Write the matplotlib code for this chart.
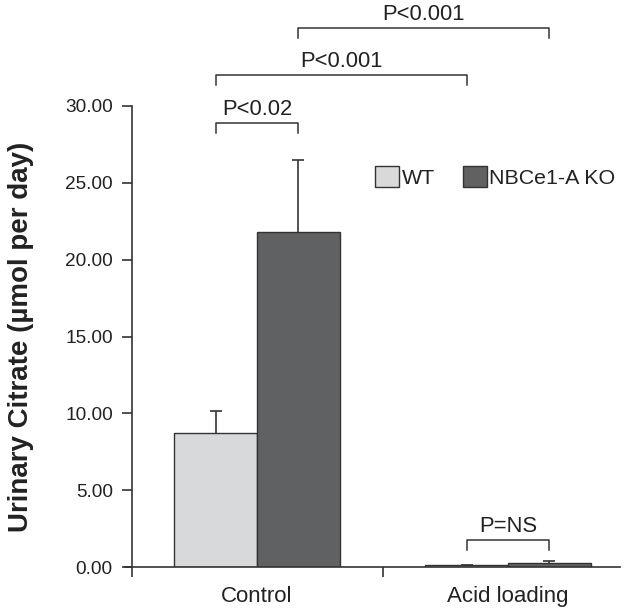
import numpy as np
import matplotlib
matplotlib.use("Agg")
from matplotlib import pyplot as plt

plt.rcParams['font.family'] = ['Liberation Sans', 'DejaVu Sans']

groups = ["Control", "Acid loading"]
series = ["WT", "NBCe1-A KO"]
means = {"WT": [8.7, 0.12], "NBCe1-A KO": [21.8, 0.28]}
errs = {"WT": [1.45, 0.0], "NBCe1-A KO": [4.7, 0.1]}
colors = {"WT": "#d8d9db", "NBCe1-A KO": "#606163"}

# (left bar index, right bar index, bracket height, label)
brackets = [(0, 1, 28.9, "P<0.02"),
            (0, 2, 32.0, "P<0.001"),
            (1, 3, 35.1, "P<0.001"),
            (2, 3, 1.76, "P=NS")]

yticks = [0, 5, 10, 15, 20, 25, 30]

ink = "#333333"
txt = "#222222"
fig = plt.figure(figsize=(6.35, 6.10), dpi=100)
ax = fig.add_axes([125 / 635, 1 - 567 / 610, 495 / 635, 461 / 610])

x = np.arange(len(groups))
w = 0.33
centers = []
for i, s in enumerate(series):
    pos = x + (i - 0.5) * w
    ax.bar(pos, means[s], w, color=colors[s], edgecolor=ink, linewidth=1.0,
           label=s, zorder=2)
    eb = ax.errorbar(pos, means[s], yerr=[np.zeros(len(groups)), errs[s]],
                     fmt="none", ecolor=ink, elinewidth=1.2, capsize=4.3,
                     capthick=1.2, zorder=1, clip_on=False)
    # only the upper cap is wanted
    for cl in eb[1]:
        if np.allclose(cl.get_ydata(), means[s]):
            cl.set_visible(False)
    centers.append(pos)

# order bars: WT ctrl, KO ctrl, WT acid, KO acid
bar_x = [centers[0][0], centers[1][0], centers[0][1], centers[1][1]]

drop = 0.65
for a, b, h, lab in brackets:
    xa, xb = bar_x[a], bar_x[b]
    ax.plot([xa, xa, xb, xb], [h - drop, h, h, h - drop], color=ink, lw=1.1,
            clip_on=False, zorder=4)
    ax.text((xa + xb) / 2, h + 0.2, lab, ha="center", va="bottom",
            fontsize=15.8, color=txt, clip_on=False)

ax.set_xlim(-0.526, 1.446)
ax.set_ylim(0, 30)
ax.spines['top'].set_visible(False)
ax.spines['right'].set_visible(False)
ax.spines['left'].set_position(('data', -0.5))
ax.spines['left'].set_bounds(0, 30)
for sp in ['left', 'bottom']:
    ax.spines[sp].set_color(ink)
    ax.spines[sp].set_linewidth(1.2)

ax.set_yticks(yticks)
ax.set_yticklabels(["%.2f" % v for v in yticks])
ax.set_xticks([-0.5, 0.5])
ax.set_xticklabels([])
ax.set_xticks(x, minor=True)
ax.set_xticklabels(groups, minor=True)
ax.tick_params(axis='x', which='minor', length=0, pad=14, labelsize=16,
               labelcolor=txt)
ax.tick_params(axis='both', which='major', direction='out', length=7.5, width=1.2,
               color=ink, labelsize=13.7, labelcolor=txt)
ax.tick_params(axis='y', pad=6)

ax.set_ylabel("Urinary Citrate (\u00b5mol per day)", fontsize=20,
              fontweight="bold", color=txt, labelpad=22)

ax.legend(loc="center left", bbox_to_anchor=(356 / 635, 1 - 177 / 610),
          bbox_transform=fig.transFigure, ncol=2, frameon=False,
          handlelength=1.12, handleheight=1.1, handletextpad=0.12,
          columnspacing=1.3, fontsize=15.4, labelcolor=txt)

fig.savefig("out.png", dpi=100)
